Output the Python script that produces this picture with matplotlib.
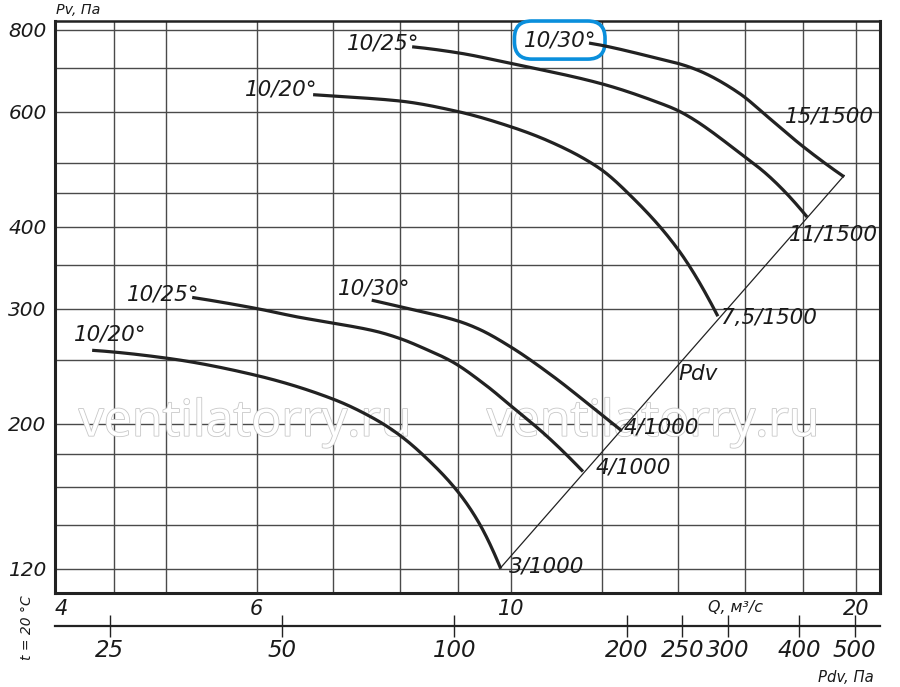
import numpy as np
import matplotlib
matplotlib.use("Agg")
import matplotlib.pyplot as plt
from matplotlib import ticker
import matplotlib.patheffects as pe

# ---------------- data ----------------
# curves: Q (m3/s) vs Pv (Pa)
q_a = [4.31, 5.0, 6.0, 7.0, 7.62, 8.0, 8.53, 9.0, 9.38, 9.8]          # 3/1000, 10/20°
p_a = [259, 252, 237, 218, 203, 192, 174, 157, 141, 120]
q_b = [5.27, 6.0, 6.53, 7.0, 7.62, 8.0, 8.43, 8.88, 9.51, 10.0, 10.73, 11.56]  # 4/1000, 10/25°
p_b = [312, 300, 291, 285, 277, 270, 260, 249, 229, 213, 192, 169]
q_c = [7.56, 8.0, 9.0, 9.38, 10.0, 10.86, 11.7, 12.5]                 # 4/1000, 10/30°
p_c = [309, 302, 287, 279, 262, 237, 214, 195]
q_d = [6.72, 7.0, 8.0, 9.0, 10.0, 10.79, 11.94, 12.76, 14.0, 15.16]   # 7,5/1500, 10/20°
p_d = [637, 634, 623, 600, 569, 541, 492, 444, 369, 292]
q_e = [8.2, 9.0, 10.0, 12.0, 13.47, 14.0, 16.0, 16.8, 18.14]          # 11/1500, 10/25°
p_e = [754, 738, 711, 662, 619, 602, 512, 478, 414]
q_f = [11.7, 12.0, 13.47, 14.0, 14.6, 15.81, 16.8, 17.96, 19.54]      # 15/1500, 10/30°
p_f = [764, 758, 723, 711, 693, 641, 587, 532, 477]

curve_start_labels = ["10/20°", "10/25°", "10/30°", "10/20°", "10/25°", "10/30°"]
curve_end_labels = ["3/1000", "4/1000", "4/1000", "7,5/1500", "11/1500", "15/1500"]

pdv_k = 1.255  # Pdv = k * Q^2

q_grid = [4.5, 5, 6, 7, 8, 9, 10, 12, 14, 16, 18, 20]
q_tick_labels = [4, 6, 10, 20]
p_grid = [120, 140, 160, 180, 200, 250, 300, 350, 400, 450, 500, 600, 700, 800]
p_tick_labels = [120, 200, 300, 400, 600, 800]
pdv_ticks = [25, 50, 100, 200, 250, 300, 400, 500]


def pchip_path(q, p, n=30):
    """Monotone cubic rendering path through the read points, in log-log space."""
    x = np.log10(np.asarray(q, float))
    y = np.log10(np.asarray(p, float))
    h = np.diff(x)
    d = np.diff(y) / h
    m = np.zeros_like(x)
    for k in range(1, len(x) - 1):
        if d[k - 1] * d[k] > 0:
            w1 = 2 * h[k] + h[k - 1]
            w2 = h[k] + 2 * h[k - 1]
            m[k] = (w1 + w2) / (w1 / d[k - 1] + w2 / d[k])
    def end_slope(h0, h1, d0, d1):
        s = ((2 * h0 + h1) * d0 - h0 * d1) / (h0 + h1)
        if np.sign(s) != np.sign(d0):
            s = 0.0
        elif np.sign(d0) != np.sign(d1) and abs(s) > abs(3 * d0):
            s = 3 * d0
        return s
    m[0] = end_slope(h[0], h[1], d[0], d[1])
    m[-1] = end_slope(h[-1], h[-2], d[-1], d[-2])
    xs, ys = [], []
    for k in range(len(x) - 1):
        t = np.linspace(0, 1, n, endpoint=False)
        h00 = 2 * t**3 - 3 * t**2 + 1
        h10 = t**3 - 2 * t**2 + t
        h01 = -2 * t**3 + 3 * t**2
        h11 = t**3 - t**2
        xs.append(x[k] + t * h[k])
        ys.append(h00 * y[k] + h10 * h[k] * m[k] + h01 * y[k + 1] + h11 * h[k] * m[k + 1])
    xs.append(x[-1:])
    ys.append(y[-1:])
    return 10 ** np.concatenate(xs), 10 ** np.concatenate(ys)


# ---------------- figure ----------------
FONT = "DejaVu Sans"
plt.rcParams['font.family'] = [FONT]
TXT = '#1a1a1a'
fig = plt.figure(figsize=(9, 6.87), dpi=100)
ax = fig.add_axes([55/900, 1-593/687, 825/900, 572/687])
ax.set_xscale('log')
ax.set_yscale('log')
ax.set_xlim(4.0, 21.0)
ax.set_ylim(110.2, 825.7)

grid_c = '#4a4a4a'
for q in q_grid:
    ax.axvline(q, color=grid_c, lw=1.0, zorder=1)
for p in p_grid:
    ax.axhline(p, color=grid_c, lw=1.0, zorder=1)

ax.xaxis.set_major_locator(ticker.FixedLocator(q_tick_labels))
ax.xaxis.set_minor_locator(ticker.NullLocator())
ax.xaxis.set_major_formatter(ticker.FuncFormatter(lambda v, pos: f"{v:g}"))
ax.yaxis.set_major_locator(ticker.FixedLocator(p_tick_labels))
ax.yaxis.set_minor_locator(ticker.NullLocator())
ax.yaxis.set_major_formatter(ticker.FuncFormatter(lambda v, pos: f"{v:g}"))
ax.tick_params(axis='x', length=0, labelsize=15, pad=4)
ax.tick_params(axis='y', length=0, labelsize=14.5, pad=6)
for lab in ax.get_xticklabels() + ax.get_yticklabels():
    lab.set_style('italic')
    lab.set_color(TXT)
ax.get_xticklabels()[0].set_ha('left')

for s in ['left', 'bottom', 'right']:
    ax.spines[s].set_linewidth(2.2)
ax.spines['top'].set_linewidth(1.8)
for s in ax.spines.values():
    s.set_color('#222222')

# watermark (behind curves and labels)
for xc in (245, 653):
    ax.text(xc/900, 1-423/687, "ventilatorry.ru", ha='center', va='center',
            transform=fig.transFigure, fontsize=36, color='white', family='Open Sans',
            zorder=2.5, path_effects=[pe.withStroke(linewidth=1.2, foreground='#c8c8c8')])

curves = [(q_a, p_a), (q_b, p_b), (q_c, p_c), (q_d, p_d), (q_e, p_e), (q_f, p_f)]
for q, p in curves:
    qs, ps = pchip_path(q, p)
    ax.plot(qs, ps, color='#222222', lw=2.3, solid_capstyle='butt', zorder=4)

# Pdv diagonal line
q_ends = [c[0][-1] for c in curves]
q_line = np.array([min(q_ends), max(q_ends)])
ax.plot(q_line, pdv_k * q_line**2, color='#222222', lw=0.9, zorder=3)

lab_kw = dict(textcoords='offset pixels', fontsize=15.5, style='italic', color=TXT, zorder=3)
start_offsets = [((18, 16), 'center'), ((7, 3), 'right'), ((2, 12), 'center'),
                 ((4, 5), 'right'), ((7, 3), 'right'), ((7, 3), 'right')]
for i, ((q, p), lab) in enumerate(zip(curves, curve_start_labels)):
    off, ha = start_offsets[i]
    kw = dict(lab_kw)
    if i == 5:
        kw['bbox'] = dict(boxstyle='round,pad=0.42,rounding_size=0.8', fc='white',
                          ec='#0a8fdc', lw=2.6)
    ax.annotate(lab, xy=(q[0], p[0]), xytext=off, ha=ha, va='center', **kw)

end_offsets = [(8, 2), (13, 4), (2, 3), (3, -2), (-18, -17), (-59, 60)]
for i, ((q, p), lab) in enumerate(zip(curves, curve_end_labels)):
    ax.annotate(lab, xy=(q[-1], p[-1]), xytext=end_offsets[i], ha='left', va='center', **lab_kw)

ax.annotate("Pdv", xy=(14.0, pdv_k * 14.0**2), xytext=(0, -9), ha='left', va='center',
            textcoords='offset pixels', fontsize=15.5, style='italic', color=TXT)

# Pdv secondary axis
sec = ax.secondary_xaxis(-0.0577, functions=(lambda q: pdv_k * np.asarray(q)**2,
                                              lambda d: np.sqrt(np.asarray(d) / pdv_k)))
sec.xaxis.set_major_locator(ticker.FixedLocator(pdv_ticks))
sec.xaxis.set_minor_locator(ticker.NullLocator())
sec.xaxis.set_major_formatter(ticker.FuncFormatter(lambda v, pos: f"{v:g}"))
sec.tick_params(axis='x', direction='inout', length=16, width=1.0, labelsize=16.5, pad=1,
                color='#222222')
for lab in sec.get_xticklabels():
    lab.set_style('italic')
    lab.set_color(TXT)
for s in sec.spines.values():
    s.set_linewidth(1.6)
    s.set_color('#222222')

# axis titles
ax.text((735-55)/825, -0.026, "Q, м³/с", transform=ax.transAxes, ha='center', va='center',
        fontsize=11.4, style='italic', color=TXT)
ax.text((846-55)/825, -0.147, "Pdv, Па", transform=ax.transAxes, ha='center', va='center',
        fontsize=10.7, style='italic', color=TXT)
fig.text(56/900, 1-10/687, "Pv, Па", ha='left', va='center', fontsize=10.3, style='italic',
         color=TXT)
fig.text(27/900, 1-628/687, "t = 20 °C", ha='center', va='center', rotation=90,
         fontsize=10, style='italic', color=TXT)

fig.savefig("out.png", dpi=100)
